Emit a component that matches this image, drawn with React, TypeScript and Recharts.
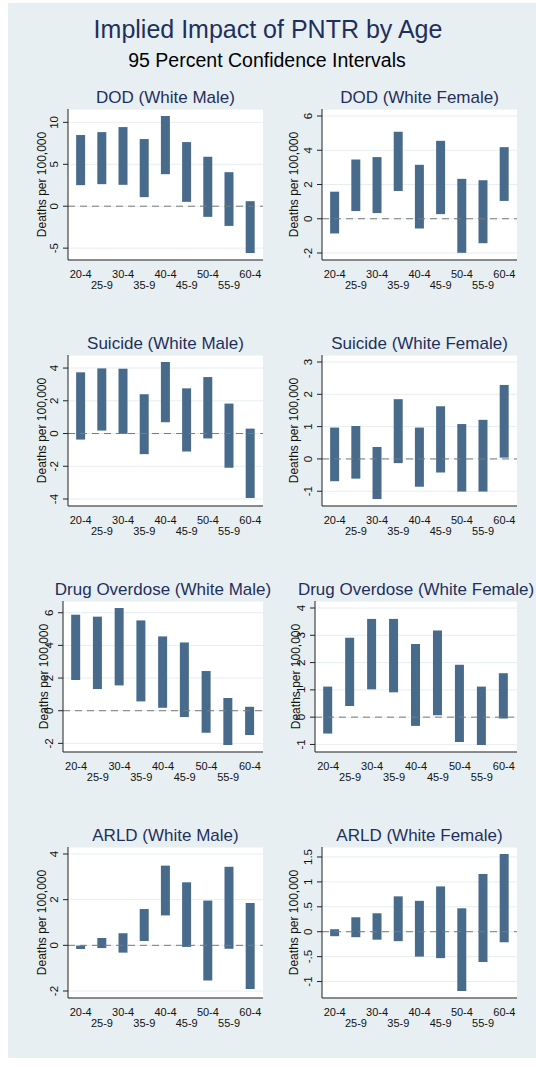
import React from 'react';
import { ComposedChart, Bar, XAxis, YAxis, CartesianGrid, ReferenceLine } from 'recharts';

const ageGroups = ['20-4', '25-9', '30-4', '35-9', '40-4', '45-9', '50-4', '55-9', '60-4'];

// 95% CI lower / upper bounds, deaths per 100,000
const dodMaleLo = [2.51, 2.63, 2.55, 1.08, 3.82, 0.52, -1.27, -2.35, -5.58];
const dodMaleHi = [8.49, 8.84, 9.44, 8.01, 10.76, 7.65, 5.9, 4.06, 0.6];
const dodFemaleLo = [-0.86, 0.45, 0.33, 1.62, -0.57, 0.27, -1.99, -1.43, 1.04];
const dodFemaleHi = [1.58, 3.46, 3.6, 5.08, 3.15, 4.55, 2.33, 2.25, 4.18];
const suicideMaleLo = [-0.37, 0.18, -0.02, -1.26, 0.69, -1.1, -0.3, -2.09, -3.94];
const suicideMaleHi = [3.74, 3.98, 3.96, 2.4, 4.37, 2.76, 3.45, 1.83, 0.3];
const suicideFemaleLo = [-0.69, -0.61, -1.24, -0.13, -0.86, -0.42, -1.01, -1.01, 0.04];
const suicideFemaleHi = [0.97, 1.02, 0.37, 1.85, 0.97, 1.63, 1.08, 1.21, 2.29];
const drugMaleLo = [1.88, 1.33, 1.55, 0.57, 0.18, -0.39, -1.35, -2.1, -1.49];
const drugMaleHi = [5.88, 5.76, 6.29, 5.53, 4.55, 4.18, 2.43, 0.78, 0.24];
const drugFemaleLo = [-0.6, 0.41, 1.02, 0.91, -0.32, 0.07, -0.91, -1.02, -0.05];
const drugFemaleHi = [1.12, 2.91, 3.6, 3.6, 2.68, 3.18, 1.92, 1.12, 1.61];
const arldMaleLo = [-0.16, -0.12, -0.32, 0.19, 1.31, -0.07, -1.54, -0.15, -1.91];
const arldMaleHi = [-0.01, 0.32, 0.53, 1.59, 3.49, 2.76, 1.96, 3.44, 1.85];
const arldFemaleLo = [-0.09, -0.11, -0.16, -0.19, -0.5, -0.53, -1.19, -0.61, -0.21];
const arldFemaleHi = [0.05, 0.29, 0.37, 0.71, 0.62, 0.91, 0.47, 1.16, 1.56];

// y tick values per panel
const dodMaleTicks = [-5, 0, 5, 10];
const dodFemaleTicks = [-2, 0, 2, 4, 6];
const suicideMaleTicks = [-4, -2, 0, 2, 4];
const suicideFemaleTicks = [-1, 0, 1, 2, 3];
const drugMaleTicks = [-2, 0, 2, 4, 6];
const drugFemaleTicks = [-1, 0, 1, 2, 3, 4];
const arldMaleTicks = [-2, 0, 2, 4];
const arldFemaleTicks = [-1, -0.5, 0, 0.5, 1, 1.5];

const FONT = '"Liberation Sans", Arial, Helvetica, sans-serif';
const NAVY = '#1f2f5c';
const BAR = '#486b8c';
const BG = '#e8eff2';
const GRID = '#e7eef1';
const AXIS = '#222';

const cols = [
  { svgLeft: 8, svgRight: 268, plotRight: 263 },
  { svgLeft: 270, svgRight: 536, plotRight: 517 },
];
const ROW_STEP = 246;
const SVG_TOP = 80;
const SVG_H = 220;
const M_TOP = 29;
const PLOT_H = 151;

const panels = [
  { title: 'DOD (White Male)', lo: dodMaleLo, hi: dodMaleHi, ticks: dodMaleTicks, col: 0, row: 0, plotLeft: 68, gap: 26 },
  { title: 'DOD (White Female)', lo: dodFemaleLo, hi: dodFemaleHi, ticks: dodFemaleTicks, col: 1, row: 0, plotLeft: 322, gap: 28 },
  { title: 'Suicide (White Male)', lo: suicideMaleLo, hi: suicideMaleHi, ticks: suicideMaleTicks, col: 0, row: 1, plotLeft: 68, gap: 26 },
  { title: 'Suicide (White Female)', lo: suicideFemaleLo, hi: suicideFemaleHi, ticks: suicideFemaleTicks, col: 1, row: 1, plotLeft: 322, gap: 28 },
  { title: 'Drug Overdose (White Male)', lo: drugMaleLo, hi: drugMaleHi, ticks: drugMaleTicks, col: 0, row: 2, plotLeft: 63, gap: 19 },
  { title: 'Drug Overdose (White Female)', lo: drugFemaleLo, hi: drugFemaleHi, ticks: drugFemaleTicks, col: 1, row: 2, plotLeft: 315, gap: 19 },
  { title: 'ARLD (White Male)', lo: arldMaleLo, hi: arldMaleHi, ticks: arldMaleTicks, col: 0, row: 3, plotLeft: 68, gap: 26 },
  { title: 'ARLD (White Female)', lo: arldFemaleLo, hi: arldFemaleHi, ticks: arldFemaleTicks, col: 1, row: 3, plotLeft: 322, gap: 28 },
];

// stata style: 0.5 -> .5, -0.5 -> -.5
const fmtTick = (v: number) => String(v).replace(/^(-?)0\./, '$1.');

function AgeTick(props: any) {
  const { x, y, payload } = props;
  const i = payload.value;
  const lower = i % 2 === 1;
  return (
    <text x={x} y={y + (lower ? 29 : 17.5)} textAnchor="middle" fontSize={11} fontFamily={FONT} fill="#111">
      {ageGroups[i]}
    </text>
  );
}

function ValueTick(props: any) {
  const { x, y, payload } = props;
  const bx = x - 5;
  return (
    <text x={bx} y={y} transform={`rotate(-90, ${bx}, ${y})`} textAnchor="middle" fontSize={11.5} fontFamily={FONT} fill="#111">
      {fmtTick(payload.value)}
    </text>
  );
}

function Panel({ p }: { p: (typeof panels)[number] }) {
  const c = cols[p.col];
  const width = c.svgRight - c.svgLeft;
  const data = ageGroups.map((g, i) => ({ idx: i, age: g, range: [p.lo[i], p.hi[i]] }));
  const lo = Math.min(...p.lo, ...p.ticks);
  const hi = Math.max(...p.hi, ...p.ticks);
  const pad = ((hi - lo) * 7) / (PLOT_H - 14);
  return (
    <div style={{ position: 'absolute', left: c.svgLeft, top: SVG_TOP + ROW_STEP * p.row }}>
      <ComposedChart
        width={width}
        height={SVG_H}
        data={data}
        margin={{ top: M_TOP, right: c.svgRight - c.plotRight, bottom: 0, left: 0 }}
      >
        <CartesianGrid vertical={false} stroke={GRID} fill="#ffffff" fillOpacity={1} />
        <XAxis
          dataKey="idx"
          type="number"
          domain={[-0.6, 8.6]}
          ticks={ageGroups.map((_, i) => i)}
          interval={0}
          allowDataOverflow
          height={SVG_H - M_TOP - PLOT_H}
          tickSize={0}
          tickMargin={0}
          tickLine={false}
          axisLine={{ stroke: AXIS }}
          tick={<AgeTick />}
        />
        <YAxis
          type="number"
          domain={[lo - pad, hi + pad]}
          ticks={p.ticks}
          interval={0}
          allowDataOverflow
          width={p.plotLeft - c.svgLeft}
          tickSize={5}
          tickMargin={0}
          axisLine={{ stroke: AXIS }}
          tickLine={{ stroke: AXIS }}
          tick={<ValueTick />}
        />
        <ReferenceLine y={0} stroke="#7a7a7a" strokeDasharray="7 5" />
        <Bar dataKey="range" fill={BAR} barSize={9} isAnimationActive={false} />
      </ComposedChart>
    </div>
  );
}

export default function App() {
  return (
    <div style={{ position: 'absolute', left: 0, top: 0, width: 536, height: 1067, fontFamily: FONT }}>
      <div style={{ position: 'absolute', left: 8, top: 3, width: 528, height: 1055, background: BG }} />
      {panels.map((p) => (
        <Panel key={p.title} p={p} />
      ))}
      <svg width={536} height={1067} style={{ position: 'absolute', left: 0, top: 0, pointerEvents: 'none' }}>
        <text x={268} y={38} textAnchor="middle" fontSize={25} fontFamily={FONT} fill={NAVY}>
          Implied Impact of PNTR by Age
        </text>
        <text x={267} y={67} textAnchor="middle" fontSize={19.5} fontFamily={FONT} fill="#000">
          95 Percent Confidence Intervals
        </text>
        {panels.map((p) => {
          const c = cols[p.col];
          const plotTop = SVG_TOP + M_TOP + ROW_STEP * p.row;
          const tx = p.plotLeft - p.gap + 4;
          const ty = plotTop + PLOT_H / 2;
          return (
            <g key={p.title}>
              <text x={(p.plotLeft + c.plotRight) / 2} y={plotTop - 6} textAnchor="middle" fontSize={17} fontFamily={FONT} fill={NAVY}>
                {p.title}
              </text>
              <text x={tx} y={ty} transform={`rotate(-90, ${tx}, ${ty})`} textAnchor="middle" fontSize={12} fontFamily={FONT} fill="#111">
                Deaths per 100,000
              </text>
            </g>
          );
        })}
      </svg>
    </div>
  );
}
